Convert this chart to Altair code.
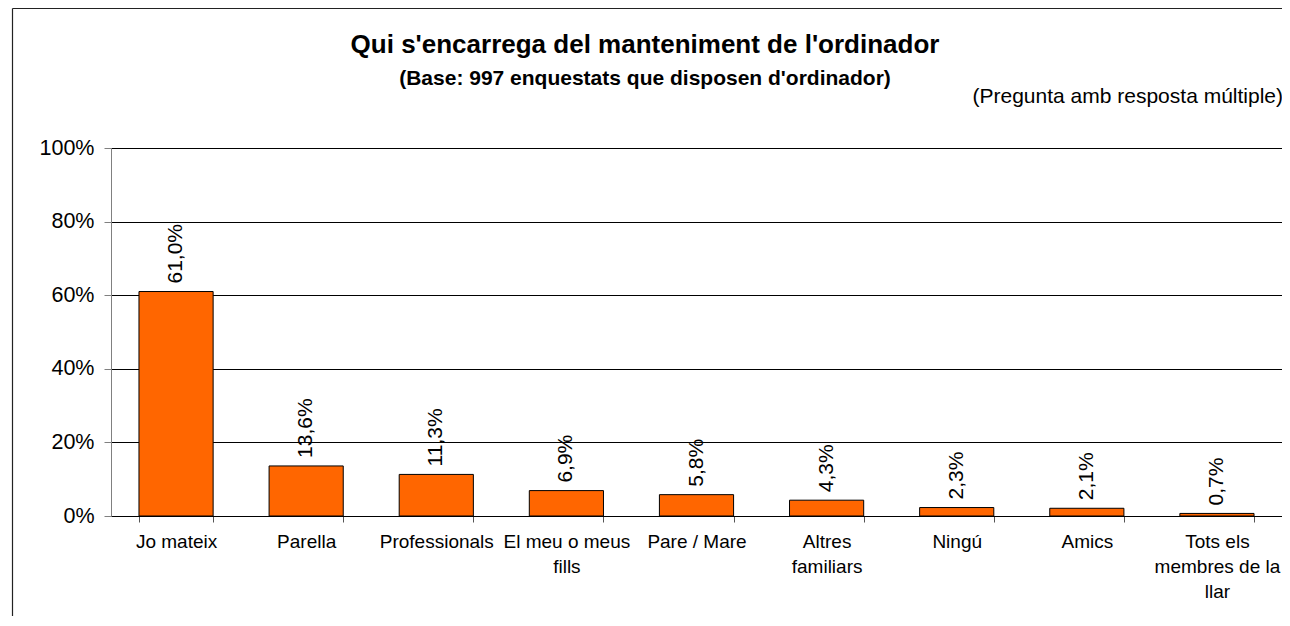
import altair as alt
import pandas as pd

categories = ["Jo mateix", "Parella", "Professionals", "El meu o meus\nfills",
              "Pare / Mare", "Altres\nfamiliars", "Ningú", "Amics",
              "Tots els\nmembres de la\nllar"]
values = [61.0, 13.6, 11.3, 6.9, 5.8, 4.3, 2.3, 2.1, 0.7]
y_ticks = [0, 20, 40, 60, 80, 100]

title_text = "Qui s'encarrega del manteniment de l'ordinador"
subtitle_text = "(Base: 997 enquestats que disposen d'ordinador)"
note_text = "(Pregunta amb resposta múltiple)"

FONT = "Liberation Sans"
W, H = 1171, 368

df = pd.DataFrame({"cat": categories, "v": values})

base = alt.Chart(df)

x_enc = alt.X("cat:N", sort=categories,
              scale=alt.Scale(paddingInner=0.43, paddingOuter=0.215),
              axis=alt.Axis(title=None, labelAngle=0, tickBand="extent",
                            labelExpr="datum.value ? split(datum.value, '\\n') : ''",
                            labelLineHeight=25, labelFontSize=19,
                            labelFont=FONT, labelColor="black",
                            labelPadding=10, labelLimit=0, labelOverlap=False,
                            domainColor="black", tickColor="#555555",
                            tickSize=6, grid=False))
y_enc = alt.Y("v:Q", scale=alt.Scale(domain=[0, 100], nice=False),
              axis=alt.Axis(title=None, values=y_ticks,
                            labelExpr="datum.value + '%'",
                            labelFontSize=21.5, labelFont=FONT, labelColor="black",
                            labelPadding=10, grid=True, gridColor="black",
                            gridWidth=1, domainColor="#808080",
                            tickColor="#808080", tickSize=7))

bars = base.mark_bar(color="#FF6600", stroke="black", strokeWidth=1).encode(
    x=x_enc, y=y_enc)

labels = base.transform_calculate(
    lab="replace(format(datum.v, '.1f'), '.', ',') + '%'"
).mark_text(angle=270, align="left", baseline="middle", dx=8,
            fontSize=21, font=FONT, color="black").encode(
    x=alt.X("cat:N", sort=categories), y="v:Q", text="lab:N")

tdf = pd.DataFrame({"t": [title_text]})
sdf = pd.DataFrame({"t": [subtitle_text]})
ndf = pd.DataFrame({"t": [note_text]})

title = alt.Chart(tdf).mark_text(fontSize=26, fontWeight="bold", font=FONT,
                                 align="center", baseline="alphabetic",
                                 color="black").encode(
    x=alt.value(534), y=alt.value(-95), text="t:N")
subtitle = alt.Chart(sdf).mark_text(fontSize=21, fontWeight="bold", font=FONT,
                                    align="center", baseline="alphabetic",
                                    color="black").encode(
    x=alt.value(534), y=alt.value(-63.5), text="t:N")
note = alt.Chart(ndf).mark_text(fontSize=21, font=FONT, align="right",
                                baseline="alphabetic", color="black").encode(
    x=alt.value(W + 1), y=alt.value(-45), text="t:N")

frame_left = alt.Chart(tdf).mark_rule(color="#222222", strokeWidth=1.2).encode(
    x=alt.value(-98.5), y=alt.value(-139.5), y2=alt.value(H + 110))
frame_top = alt.Chart(tdf).mark_rule(color="#222222", strokeWidth=1.2).encode(
    x=alt.value(-98.5), x2=alt.value(W + 10), y=alt.value(-139.5))

chart = alt.layer(bars, labels, title, subtitle, note, frame_left, frame_top).properties(
    width=W, height=H,
    autosize=alt.AutoSizeParams(type="none"),
    padding={"left": 103, "top": 140, "right": 0, "bottom": 100},
).configure_view(stroke=None).configure(background="white")

chart.save("out.html", embed_options={"renderer": "svg", "actions": False})
